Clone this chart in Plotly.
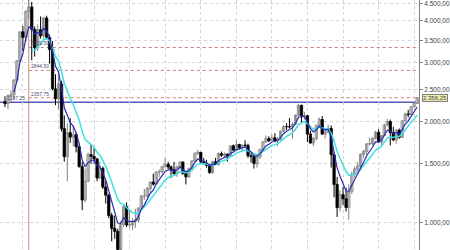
import math
import pandas as pd
import plotly.graph_objects as go

# Monthly bars, Jul 1999 .. Feb 2011
months = pd.date_range("1999-07-01", periods=140, freq="MS").strftime("%Y-%m-%d").tolist()

opens = [2296, 2264, 2396, 2407, 2659, 3039,
         3707, 3570, 4266, 4397, 3773, 3324, 3763, 3609, 4077, 3570, 3283, 2506,
         2341, 2593, 1908, 1573, 1855, 1799, 1830, 1683, 1469, 1168, 1329, 1596,
         1577, 1550, 1359, 1452, 1277, 1208, 1051, 962, 942, 832, 989, 1116,
         984, 985, 1010, 1018, 1106, 1200, 1201, 1263, 1321, 1303, 1416, 1421,
         1468, 1493, 1467, 1438, 1400, 1467, 1517, 1403, 1370, 1449, 1529, 1610,
         1621, 1519, 1502, 1483, 1411, 1520, 1493, 1606, 1588, 1601, 1580, 1695,
         1645, 1710, 1675, 1703, 1700, 1584, 1575, 1501, 1570, 1654, 1741, 1780,
         1756, 1791, 1758, 1772, 1876, 1935, 1934, 1929, 1967, 2091, 2238, 2084,
         2085, 1838, 1728, 1781, 1950, 2031, 1837, 1866, 1911, 1594, 1300, 1109,
         1212, 1178, 1110, 1237, 1395, 1446, 1477, 1600, 1633, 1718, 1720, 1784,
         1860, 1741, 1818, 1957, 2002, 1856, 1765, 1886, 1797, 2014, 2109, 2101,
         2218, 2265]
highs = [2380, 2410, 2480, 2680, 3050, 3720,
         3860, 4300, 4816, 4550, 3850, 3900, 4120, 4100, 4140, 3640, 3480, 2770,
         2830, 2650, 2090, 1980, 2050, 1950, 1860, 1720, 1520, 1450, 1620, 1710,
         1670, 1560, 1520, 1470, 1330, 1220, 1070, 1050, 960, 1010, 1130, 1150,
         1090, 1030, 1100, 1110, 1210, 1260, 1280, 1330, 1400, 1420, 1440, 1480,
         1560, 1520, 1480, 1520, 1480, 1520, 1520, 1410, 1460, 1530, 1620, 1650,
         1625, 1560, 1540, 1500, 1530, 1560, 1620, 1630, 1620, 1610, 1700, 1710,
         1760, 1720, 1710, 1760, 1720, 1610, 1590, 1590, 1660, 1750, 1820, 1810,
         1830, 1850, 1800, 1880, 1950, 1980, 2050, 1990, 2100, 2260, 2250, 2140,
         2090, 1880, 1800, 1960, 2060, 2080, 1910, 1960, 1950, 1620, 1370, 1250,
         1280, 1270, 1300, 1420, 1470, 1520, 1610, 1650, 1730, 1790, 1800, 1880,
         1900, 1820, 1970, 2040, 2030, 1930, 1900, 1910, 2020, 2130, 2170, 2220,
         2290, 2370]
lows = [2210, 2180, 2300, 2330, 2640, 3020,
        3250, 3450, 4040, 3050, 3130, 3250, 3540, 3530, 3520, 2980, 2480, 2240,
        2180, 1870, 1520, 1330, 1730, 1690, 1620, 1460, 1090, 1150, 1320, 1500,
        1500, 1330, 1350, 1260, 1140, 1030, 880, 895, 830, 795, 970, 970,
        965, 950, 965, 1000, 1095, 1170, 1190, 1230, 1290, 1300, 1370, 1400,
        1460, 1440, 1360, 1390, 1370, 1440, 1390, 1300, 1360, 1420, 1520, 1590,
        1500, 1490, 1460, 1400, 1400, 1490, 1480, 1570, 1560, 1520, 1570, 1640,
        1640, 1650, 1630, 1680, 1560, 1510, 1450, 1460, 1550, 1640, 1730, 1740,
        1750, 1740, 1690, 1760, 1860, 1890, 1910, 1780, 1960, 2070, 1980, 2030,
        1740, 1720, 1690, 1760, 1940, 1830, 1780, 1850, 1460, 1190, 1040, 1080,
        1130, 1080, 1020, 1220, 1360, 1420, 1430, 1560, 1590, 1700, 1700, 1770,
        1730, 1700, 1810, 1940, 1700, 1750, 1720, 1780, 1790, 2000, 2060, 2090,
        2200, 2260]
closes = [2264, 2396, 2407, 2659, 3039, 3707,
          3570, 4266, 4397, 3773, 3324, 3763, 3609, 4077, 3570, 3283, 2506, 2341,
          2593, 1908, 1573, 1855, 1799, 1830, 1683, 1469, 1168, 1329, 1596, 1577,
          1550, 1359, 1452, 1277, 1208, 1051, 962, 942, 832, 989, 1116, 984,
          985, 1010, 1018, 1106, 1200, 1201, 1263, 1321, 1303, 1416, 1421, 1468,
          1493, 1467, 1438, 1400, 1467, 1517, 1403, 1370, 1449, 1529, 1610, 1621,
          1519, 1502, 1483, 1411, 1520, 1493, 1606, 1588, 1601, 1580, 1695, 1645,
          1710, 1675, 1703, 1700, 1584, 1575, 1501, 1570, 1654, 1741, 1780, 1756,
          1791, 1758, 1772, 1876, 1935, 1934, 1929, 1967, 2091, 2238, 2084, 2085,
          1838, 1728, 1781, 1950, 2031, 1837, 1866, 1911, 1594, 1300, 1109, 1212,
          1178, 1110, 1237, 1395, 1446, 1477, 1600, 1633, 1718, 1720, 1784, 1860,
          1741, 1818, 1957, 2002, 1856, 1765, 1886, 1797, 2014, 2109, 2101, 2218,
          2265, 2356]

# fast average (dark blue) and slow average (cyan)
avg_fast = [None, None, None,
            2447, 2644, 2998, 3189, 3548, 3831, 3812, 3649, 3687, 3661, 3800, 3723, 3576,
            3219, 2926, 2815, 2513, 2200, 2085, 1990, 1937, 1852, 1724, 1539, 1469, 1511,
            1533, 1539, 1479, 1470, 1406, 1340, 1244, 1150, 1081, 998, 995, 1035, 1018,
            1007, 1008, 1011, 1043, 1095, 1130, 1174, 1223, 1250, 1305, 1344, 1385, 1421,
            1436, 1437, 1425, 1439, 1465, 1444, 1419, 1429, 1462, 1511, 1548, 1538, 1526,
            1512, 1478, 1492, 1492, 1530, 1549, 1566, 1571, 1612, 1623, 1652, 1660, 1674,
            1683, 1650, 1625, 1584, 1579, 1604, 1650, 1693, 1714, 1740, 1746, 1755, 1795,
            1842, 1873, 1892, 1917, 1975, 2063, 2070, 2075, 1996, 1907, 1865, 1893, 1939,
            1905, 1892, 1898, 1797, 1631, 1457, 1375, 1309, 1243, 1241, 1292, 1343, 1388,
            1459, 1517, 1584, 1629, 1681, 1741, 1741, 1767, 1830, 1887, 1877, 1840, 1855,
            1836, 1895, 1966, 2011, 2080, 2142, 2213]
avg_slow = [None] * 9 + [
            3248, 3262, 3353, 3400, 3523, 3531, 3486, 3308, 3132, 3034, 2829, 2601, 2465,
            2344, 2251, 2148, 2025, 1869, 1771, 1739, 1710, 1681, 1622, 1591, 1534, 1475,
            1398, 1319, 1250, 1174, 1140, 1136, 1108, 1086, 1072, 1062, 1070, 1094, 1113,
            1140, 1173, 1197, 1237, 1270, 1306, 1340, 1363, 1377, 1381, 1397, 1419, 1416,
            1408, 1415, 1436, 1468, 1496, 1500, 1500, 1497, 1481, 1488, 1489, 1510, 1524,
            1538, 1546, 1573, 1586, 1609, 1621, 1636, 1648, 1636, 1625, 1602, 1596, 1607,
            1631, 1658, 1676, 1697, 1708, 1720, 1748, 1782, 1810, 1832, 1857, 1900, 1961,
            1983, 2002, 1972, 1928, 1901, 1910, 1932, 1915, 1906, 1907, 1850, 1750, 1633,
            1556, 1487, 1418, 1385, 1387, 1398, 1412, 1446, 1480, 1523, 1559, 1600, 1647,
            1664, 1692, 1740, 1788, 1800, 1794, 1811, 1808, 1845, 1893, 1931, 1983, 2034,
            2093]

y_ticks = [1000, 1500, 2000, 2500, 3000, 3500, 4000, 4500]
y_tick_text = ["1.000,00", "1.500,00", "2.000,00", "2.500,00",
               "3.000,00", "3.500,00", "4.000,00", "4.500,00"]

level_values = [3329.50, 2844.50, 2357.75]
level_labels = ["3329.50", "2844.50", "2357.75"]
base_value = 2287.25
base_label = "2287.25"
last_value = 2356.25
last_label = "2.356,25"
marker_month = "2000-03-01"

x_range = ["1999-05-11", "2011-02-20"]
y_range = [math.log10(829), math.log10(4613)]
body_width_ms = 24 * 86400000

# split bars into rising / falling groups
up = [i for i in range(len(months)) if closes[i] >= opens[i]]
dn = [i for i in range(len(months)) if closes[i] < opens[i]]


def wick_xy(idx):
    xs, ys = [], []
    for i in idx:
        xs += [months[i], months[i], None]
        ys += [lows[i], highs[i], None]
    return xs, ys


fig = go.Figure()

for idx, col in ((up, "#808080"), (dn, "#000000")):
    wx, wy = wick_xy(idx)
    fig.add_trace(go.Scatter(x=wx, y=wy, mode="lines", line=dict(color=col, width=1),
                             hoverinfo="skip", showlegend=False, connectgaps=False))

fig.add_trace(go.Bar(
    x=[months[i] for i in up],
    base=[opens[i] for i in up],
    y=[closes[i] - opens[i] for i in up],
    width=body_width_ms,
    marker=dict(color="#ffffff", line=dict(color="#7a7a7a", width=0.8)),
    hoverinfo="skip", showlegend=False))
fig.add_trace(go.Bar(
    x=[months[i] for i in dn],
    base=[closes[i] for i in dn],
    y=[opens[i] - closes[i] for i in dn],
    width=body_width_ms,
    marker=dict(color="#000000", line=dict(color="#000000", width=0.8)),
    hoverinfo="skip", showlegend=False))

fig.add_trace(go.Scatter(x=months, y=avg_slow, mode="lines",
                         line=dict(color="#40e0e0", width=1.5),
                         hoverinfo="skip", showlegend=False))
fig.add_trace(go.Scatter(x=months, y=avg_fast, mode="lines",
                         line=dict(color="#2a2ab8", width=1.2),
                         hoverinfo="skip", showlegend=False))

shapes = []
shapes.append(dict(type="line", xref="x", yref="paper", x0=marker_month, x1=marker_month,
                   y0=0, y1=1, line=dict(color="#c89088", width=1), layer="below"))
for v in level_values:
    shapes.append(dict(type="line", xref="x", yref="y", x0=marker_month, x1=x_range[1],
                       y0=v, y1=v, line=dict(color="#d07878", width=1, dash="dot"),
                       layer="below"))
shapes.append(dict(type="line", xref="paper", yref="y", x0=0, x1=1,
                   y0=base_value, y1=base_value,
                   line=dict(color="#5858b8", width=1.5), layer="below"))

annotations = []
for v, t in zip(level_values, level_labels):
    annotations.append(dict(x=marker_month, xref="x", y=math.log10(v), yref="y",
                            text=t, showarrow=False, xanchor="left", yanchor="bottom",
                            xshift=0, yshift=-1,
                            font=dict(family="Liberation Sans", size=5, color="#505070")))
annotations.append(dict(x=0, xref="paper", y=math.log10(base_value), yref="y",
                        text=base_label, showarrow=False, xanchor="left", yanchor="bottom",
                        xshift=5, yshift=-1,
                        font=dict(family="Liberation Sans", size=5, color="#505070")))
annotations.append(dict(x=1, xref="paper", y=math.log10(last_value), yref="y",
                        text=last_label, showarrow=False, xanchor="left", yanchor="middle",
                        xshift=3, bgcolor="#eeeeb0", bordercolor="#808080",
                        borderwidth=1, borderpad=0,
                        font=dict(family="Liberation Sans", size=6, color="#404040")))

fig.update_layout(
    width=450, height=250,
    margin=dict(l=0, r=31, t=0, b=0),
    paper_bgcolor="#ffffff", plot_bgcolor="#ffffff",
    showlegend=False, barmode="overlay",
    shapes=shapes, annotations=annotations,
    xaxis=dict(type="date", range=x_range, dtick="M12", tick0="2000-01-01",
               showgrid=True, gridcolor="#d4d4d4", griddash="dot", gridwidth=1,
               showticklabels=False, ticks="", showline=False, zeroline=False),
    yaxis=dict(type="log", range=y_range, side="right",
               tickvals=y_ticks, ticktext=y_tick_text,
               showgrid=True, gridcolor="#d4d4d4", griddash="dot", gridwidth=1,
               ticks="outside", ticklen=3, tickcolor="#808080",
               showline=True, linecolor="#808080", linewidth=1, zeroline=False,
               ticklabeloverflow="allow",
               tickfont=dict(family="Liberation Sans", size=6.5, color="#404040")),
)

fig.write_html("out.html")
